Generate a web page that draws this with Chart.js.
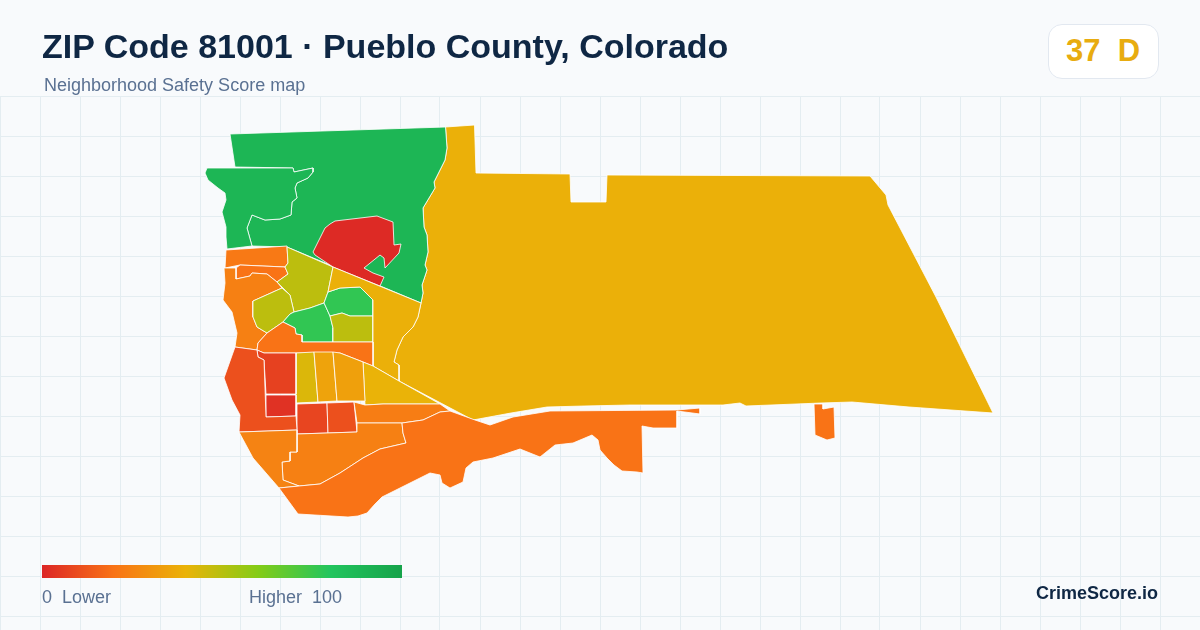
<!DOCTYPE html>
<html>
<head>
<meta charset="utf-8">
<title>ZIP Code 81001</title>
<script src="https://cdn.jsdelivr.net/npm/chart.js@4"></script>
<style>
  html, body { margin: 0; background: #f8fafc; }
  #wrap { position: relative; width: 1200px; height: 630px; overflow: hidden; font-family: "Liberation Sans", Arial, sans-serif; }
  #map { position: absolute; left: 0; top: 0; }
  .t { position: absolute; white-space: pre; line-height: 1; }
  #title { left: 42px; top: 29px; font-size: 34px; font-weight: 700; color: #0f2744; }
  #sub { left: 44px; top: 76px; font-size: 18px; color: #5a7192; }
  #badge { position: absolute; left: 1048px; top: 24px; width: 109px; height: 53px; background: #fff; border: 1px solid #e2e8f0; border-radius: 14px; }
  #score { left: 1066px; top: 35px; font-size: 31px; font-weight: 700; color: #e8ac10; }
  #bar { position: absolute; left: 42px; top: 565px; width: 360px; height: 13px; background: linear-gradient(90deg, #dc2626 0%, #f97316 20%, #eab308 40%, #84cc16 60%, #22c55e 80%, #16a34a 100%); }
  .leg { top: 588px; font-size: 18px; color: #5a7192; }
  #brand { right: 42px; top: 584px; font-size: 18px; font-weight: 700; color: #0f2744; }
</style>
</head>
<body>
<div id="wrap">
  <canvas id="map" width="1200" height="630"></canvas>
  <div class="t" id="title">ZIP Code 81001 · Pueblo County, Colorado</div>
  <div class="t" id="sub">Neighborhood Safety Score map</div>
  <div id="badge"></div>
  <div class="t" id="score">37  D</div>
  <div id="bar"></div>
  <div class="t leg" style="left:42px">0  Lower</div>
  <div class="t leg" style="left:249px">Higher  100</div>
  <div class="t" id="brand">CrimeScore.io</div>
</div>
<script>
// score scale
const scaleStops = [0, 20, 40, 60, 80, 100];
const scaleColors = [[220,38,38], [249,115,22], [234,179,8], [132,204,22], [34,197,94], [22,163,74]];

// map grid
const gridX = [0,40,80,120,160,200,240,280,320,360,400,440,480,520,560,600,640,680,720,760,800,840,880,920,960,1000,1040,1080,1120,1160,1200];
const gridY = [96,136,176,216,256,296,336,376,416,456,496,536,576,616];

// neighborhoods: outline points
const eastRural = [[445.5,127],[474.5,125],[476,173],[570,174],[571,202],[606,202],[607,175],[870,176],[886,195],[888,205],[936,297],[993,413],[909,407],[852,402],[821,403],[746,406],[740,403],[723,405],[706,405],[630,405],[584,406],[547,407],[511,413],[473,420],[399,381],[399,365],[394,362],[397,350],[403,337],[413,327],[418,317],[421,303],[423,293],[422,285],[427,270],[425,265],[428,252],[427,235],[424,227],[423,208],[429,198],[435,188],[434,182],[440,170],[445,160],[447,148]];
const northGreen = [[230,134],[445.5,127],[447,148],[445,160],[440,170],[434,182],[435,188],[429,198],[423,208],[424,227],[427,235],[428,252],[425,265],[427,270],[422,285],[423,293],[421,303],[287,247],[252,246],[247,228],[252,215],[265,220],[280,219],[291,215],[292,202],[297,198],[295,188],[297,183],[308,178],[313,172],[313,168],[294,172],[293,168],[235,167]];
const westGreen = [[207,168],[293,168],[294,172],[313,168],[313,172],[308,178],[297,183],[295,188],[297,198],[292,202],[291,215],[280,219],[265,220],[252,215],[247,228],[252,246],[227,249],[226,237],[226,227],[222,212],[226,200],[225,193],[218,188],[208,180],[205,173]];
const redCore = [[313,252],[325,228],[330,224],[335,221],[377,216],[393,222],[394,245],[401,244],[399,253],[385,268],[384,258],[380,255],[364,268],[373,273],[384,277],[380,286],[333,267],[315,255]];
const nwOrange = [[226,250],[287,246],[288,263],[285,267],[240,265],[225,268]];
const nwSliver = [[236,268],[240,265],[285,267],[288,274],[277,282],[267,274],[252,273],[250,276],[236,279]];
const westOrange = [[224,268],[236,268],[236,279],[250,276],[252,273],[267,274],[277,282],[282,288],[253,301],[253,317],[257,327],[267,333],[258,343],[257,350],[235,347],[237,333],[232,312],[223,300],[225,283]];
const northOlive = [[287,247],[333,267],[328,292],[324,303],[310,308],[294,312],[290,295],[277,282],[288,274],[285,267],[288,263]];
const westOlive = [[282,288],[290,295],[294,312],[290,314],[283,322],[267,333],[257,327],[253,317],[253,301]];
const centerGreen = [[283,322],[290,314],[294,312],[310,308],[324,303],[325,305],[330,316],[333,328],[333,342],[302,342],[302,335],[296,334],[295,328]];
const eastGreen = [[328,292],[340,288],[360,287],[368,295],[373,300],[373,316],[350,316],[342,313],[330,316],[325,305],[324,303]];
const southOlive = [[330,316],[342,313],[350,316],[373,316],[373,342],[333,342],[333,328]];
const goldWedge = [[333,267],[421,303],[418,317],[413,327],[403,337],[397,350],[394,362],[399,365],[399,381],[373,366],[373,300],[368,295],[360,287],[340,288],[328,292]];
const midOrange = [[283,322],[295,328],[296,334],[302,335],[302,342],[373,342],[373,366],[363,362],[340,353],[296,353],[264,353],[257,350],[258,343],[267,333]];
const yellowTriangle = [[363,362],[373,366],[399,381],[440,404],[383,404],[365,405]];
const stripA = [[296,353],[314,352],[318,402],[296,403]];
const stripB = [[314,352],[333,352],[337,401],[318,402]];
const stripC = [[333,352],[340,353],[363,362],[365,401],[337,401]];
const blockD = [[257,350],[264,353],[296,353],[296,394],[266,394],[264,360],[258,357]];
const blockE = [[266,395],[296,395],[296,416],[266,417]];
const blockF = [[297,404],[327,403],[328,433],[297,434]];
const blockG = [[327,403],[354,402],[357,432],[328,433]];
const westRed = [[235,347],[257,350],[258,357],[264,360],[266,417],[296,416],[297,430],[239,432],[240,415],[232,400],[224,378]];
const bandH = [[354,402],[365,405],[383,404],[440,404],[450,411],[440,412],[423,420],[402,423],[357,423]];
const southI = [[297,434],[357,432],[357,423],[402,423],[403,433],[406,443],[380,449],[363,458],[340,473],[320,484],[299,486],[283,480],[282,462],[290,461],[290,452],[297,452]];
const southwestJ = [[239,432],[297,430],[297,452],[290,452],[290,461],[282,462],[283,480],[299,486],[279,488],[253,458]];
const riverBand = [[279,488],[299,486],[320,484],[340,473],[363,458],[380,449],[406,443],[403,433],[402,423],[423,420],[440,412],[450,411],[475,420],[490,425],[513,417],[550,411],[677,410],[700,408],[700,414],[677,411],[677,428],[653,428],[642,426],[643,473],[637,472],[622,471],[614,465],[607,458],[600,450],[598,440],[592,435],[573,443],[555,445],[540,457],[520,449],[493,458],[473,462],[466,468],[463,482],[450,488],[442,483],[440,475],[430,473],[400,488],[382,497],[375,504],[367,513],[358,516],[348,517],[298,514]];
const riverIsland = [[814,404],[823,404],[823,409],[834,407],[835,438],[827,440],[815,435]];

const regions = [eastRural, northGreen, westGreen, redCore, nwOrange, nwSliver, westOrange, northOlive, westOlive, centerGreen, eastGreen, southOlive, goldWedge, midOrange, yellowTriangle, stripA, stripB, stripC, blockD, blockE, blockF, blockG, westRed, bandH, southI, southwestJ, riverBand, riverIsland];
const scores = [39, 89, 89, 1, 22, 20, 24, 49, 49, 77, 77, 49, 39, 20, 40, 43, 35, 34, 7, 3, 8, 11, 11, 23, 24, 25, 20, 20];

function scoreColor(s) {
  let i = 0;
  while (i < scaleStops.length - 2 && s > scaleStops[i + 1]) i++;
  const t = (s - scaleStops[i]) / (scaleStops[i + 1] - scaleStops[i]);
  const c = scaleColors[i].map((v, k) => Math.round(v + (scaleColors[i + 1][k] - v) * t));
  return `rgb(${c[0]},${c[1]},${c[2]})`;
}

const datasets = regions.map((r, i) => ({
  data: r.concat([r[0]]).map(p => ({ x: p[0], y: p[1] })),
  showLine: true,
  fill: "shape",
  backgroundColor: scoreColor(scores[i]),
  borderColor: "#ffffff",
  borderWidth: 0.8,
  pointRadius: 0,
  tension: 0,
  order: -i
}));

new Chart(document.getElementById("map"), {
  type: "scatter",
  data: { datasets },
  options: {
    responsive: false,
    animation: false,
    devicePixelRatio: 1,
    layout: { padding: { top: 96 } },
    plugins: { legend: { display: false }, tooltip: { enabled: false }, filler: { propagate: false } },
    scales: {
      x: {
        min: 0, max: 1200,
        afterBuildTicks: s => { s.ticks = gridX.map(v => ({ value: v })); },
        grid: { color: "#e4edf1", drawTicks: false },
        border: { display: false },
        ticks: { display: false }
      },
      y: {
        min: 96, max: 630, reverse: true,
        afterBuildTicks: s => { s.ticks = gridY.map(v => ({ value: v })); },
        grid: { color: "#e4edf1", drawTicks: false },
        border: { display: false },
        ticks: { display: false }
      }
    }
  }
});
</script>
</body>
</html>
